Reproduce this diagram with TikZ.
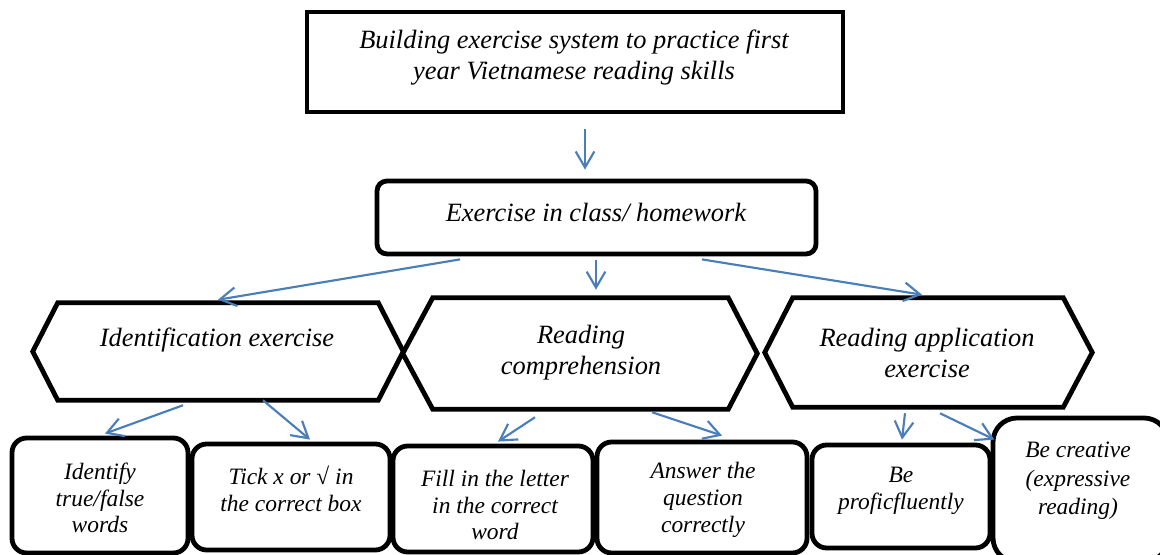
\documentclass[tikz,border=0pt]{standalone}
\usepackage{fontspec}
\setmainfont{Liberation Serif}
\usetikzlibrary{arrows.meta,calc}
\definecolor{arrowblue}{RGB}{74,126,187}
\begin{document}
\begin{tikzpicture}[x=0.75pt,y=-0.75pt,
  shapebox/.style={draw,line width=3.6pt,inner sep=0pt},
  roundbox/.style={shapebox,rounded corners=11pt},
  biglbl/.style={font=\itshape\fontsize{19.8}{23.3}\selectfont,align=center,inner sep=0pt},
  smalllbl/.style={font=\itshape\fontsize{17.6}{20}\selectfont,align=center,inner sep=0pt},
  conn/.style={draw=arrowblue,line width=1.6pt,-{Straight Barb[length=12pt,width=14pt,line width=1.6pt]}},
  hexcore/.style={inner sep=0pt,draw=none},
]
\useasboundingbox (0,0) rectangle (1160,555);

% top box
\node[shapebox,minimum width=402pt,minimum height=75pt] (top) at (575,62) {};
\node[biglbl] (toptxt) at (574,58) {Building exercise system to practice first\\year Vietnamese reading skills};

% second box
\node[shapebox,rounded corners=7.5pt,minimum width=329.25pt,minimum height=54.75pt] (box2) at (596.5,217.5) {};
\node[biglbl] (box2txt) at (596,212) {Exercise in class/ homework};

% hexagons
\node[hexcore,minimum width=240pt,minimum height=72.75pt] (h1) at (218,351.5) {};
\node[hexcore,minimum width=221.25pt,minimum height=83.25pt] (h2) at (580.5,353.5) {};
\node[hexcore,minimum width=202.5pt,minimum height=81.75pt] (h3) at (928,352.5) {};
\draw[line width=3.6pt,line join=miter] (h1.north west) -- (h1.north east) -- ($(h1.east)+(25,0)$) -- (h1.south east) -- (h1.south west) -- ($(h1.west)+(-25,0)$) -- cycle;
\draw[line width=3.6pt,line join=miter] (h2.north west) -- (h2.north east) -- ($(h2.east)+(29,0)$) -- (h2.south east) -- (h2.south west) -- ($(h2.west)+(-30,0)$) -- cycle;
\draw[line width=3.6pt,line join=miter] (h3.north west) -- (h3.north east) -- ($(h3.east)+(29,0)$) -- (h3.south east) -- (h3.south west) -- ($(h3.west)+(-28,0)$) -- cycle;
\node[biglbl] (h1txt) at (217,340) {Identification exercise};
\node[biglbl] (h2txt) at (581,353) {Reading\\comprehension};
\node[biglbl] (h3txt) at (927,353) {Reading application\\exercise};

% bottom boxes
\node[roundbox,minimum width=132pt,minimum height=86.25pt] (b1) at (100,495.5) {};
\node[roundbox,minimum width=148.5pt,minimum height=79.5pt] (b2) at (291,497) {};
\node[roundbox,minimum width=150pt,minimum height=79.5pt] (b3) at (493,499) {};
\node[roundbox,minimum width=157.5pt,minimum height=83.25pt] (b4) at (702,497.5) {};
\node[roundbox,minimum width=133.5pt,minimum height=77.25pt] (b5) at (901,496.5) {};
\node[shapebox,rounded corners=18pt,minimum width=131.25pt,minimum height=108pt] (b6) at (1080.5,490) {};

\node[smalllbl] (b1txt) at (100,498) {Identify\\true/false\\words};
\node[smalllbl] (b2txt) at (291,489) {Tick x or √ in\\the correct box};
\node[smalllbl] (b3txt) at (495,505) {Fill in the letter\\in the correct\\word};
\node[smalllbl] (b4txt) at (703,500) {Answer the\\question\\correctly};
\node[smalllbl] (b5txt) at (901,491) {Be\\proficfluently};
\node[smalllbl,font=\itshape\fontsize{17.6}{21.5}\selectfont] (b6txt) at (1078,481) {Be creative\\(expressive\\reading)};

% connectors
\draw[conn] ($(top.south)+(10,15)$) -- ($(box2.north)+(-11.5,-9)$);
\draw[conn] ($(box2.south)+(-136.5,3)$) -- ($(h1.north)+(0,-3)$);
\draw[conn] ($(box2.south)+(-0.5,4)$) -- ($(h2.north)+(15.5,-8)$);
\draw[conn] ($(box2.south)+(105.5,3)$) -- ($(h3.north)+(-6,-3)$);
\draw[conn] ($(h1.south)+(-35,5)$) -- ($(b1.north)+(5,-2)$);
\draw[conn] ($(h1.south)+(45,0)$) -- ($(b2.north)+(19,-2)$);
\draw[conn] ($(h2.south)+(-45.5,8)$) -- ($(b3.north)+(5,-2)$);
\draw[conn] ($(h2.south)+(71.5,3)$) -- ($(b4.north)+(20,-4)$);
\draw[conn] ($(h3.south)+(-23,6)$) -- ($(b5.north)+(1,-3)$);
\draw[conn] ($(h3.south)+(12,6)$) -- ($(b5.north east)+(2,-3)$);
\end{tikzpicture}
\end{document}
